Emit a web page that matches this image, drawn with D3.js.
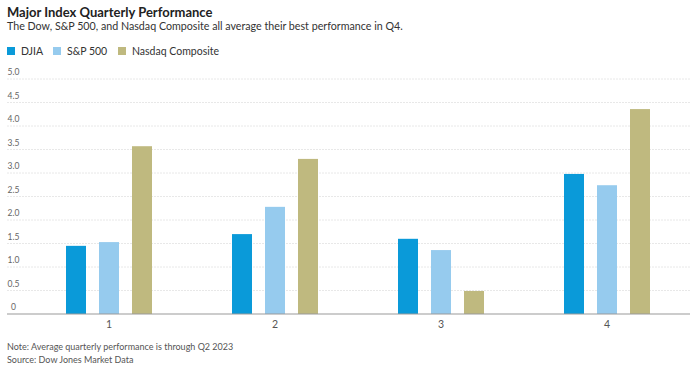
<!DOCTYPE html>
<html>
<head>
<meta charset="utf-8">
<script src="https://cdn.jsdelivr.net/npm/d3@7"></script>
<style>
  body { margin: 0; background: #fff; }
  svg { font-family: Lato, "Open Sans", sans-serif; }
</style>
</head>
<body>
<svg id="chart" width="700" height="375"></svg>
<script>
// data
let quarters = ["1", "2", "3", "4"];
let series = ["DJIA", "S&P 500", "Nasdaq Composite"];
let djia = [1.45, 1.70, 1.60, 2.98];
let sp500 = [1.53, 2.28, 1.36, 2.74];
let nasdaq = [3.57, 3.30, 0.49, 4.36];
let yTicks = [0, 0.5, 1.0, 1.5, 2.0, 2.5, 3.0, 3.5, 4.0, 4.5, 5.0];

let colors = ["#0a9ad9", "#96cbee", "#bfb97f"];
let values = [djia, sp500, nasdaq];

let svg = d3.select("#chart");

let dims = {
  left: 26, //left edge of first quarter band
  right: 690,
  top: 79,
  bottom: 314,
  axisLeft: 7,
};

let xScale = d3.scaleBand().domain(quarters).range([dims.left, dims.right]);
let xInner = d3.scaleBand().domain(series).range([0, 86]).paddingInner(13 / 33);
let yScale = d3.scaleLinear().domain([0, 5]).range([dims.bottom, dims.top]);

// title block
svg.append("text")
  .text("Major Index Quarterly Performance")
  .attr("x", 7).attr("y", 17)
  .attr("font-size", 13).attr("font-weight", "bold").attr("fill", "#222");

svg.append("text")
  .text("The Dow, S&P 500, and Nasdaq Composite all average their best performance in Q4.")
  .attr("x", 7).attr("y", 29.5)
  .attr("font-size", 10.7).attr("fill", "#333");

// legend
let legend = svg.append("g");
let legendX = [7, 53, 118];
series.forEach((s, i) => {
  legend.append("rect")
    .attr("x", legendX[i]).attr("y", 47)
    .attr("width", 8).attr("height", 8)
    .attr("fill", colors[i]);
  legend.append("text")
    .text(s)
    .attr("x", legendX[i] + 14).attr("y", 55)
    .attr("font-size", 10.5).attr("fill", "#333");
});

// gridlines and y labels
let grid = svg.append("g");
grid.selectAll("line")
  .data(yTicks.filter((d) => d > 0))
  .enter()
  .append("line")
  .attr("x1", dims.axisLeft).attr("x2", dims.right)
  .attr("y1", (d) => yScale(d)).attr("y2", (d) => yScale(d))
  .attr("stroke", "#e8e8e8").attr("stroke-dasharray", "2,1");

grid.selectAll("text")
  .data(yTicks)
  .enter()
  .append("text")
  .text((d) => (d === 0 ? "0" : d.toFixed(1)))
  .attr("x", 13.5)
  .attr("y", (d) => yScale(d) - 4)
  .attr("text-anchor", "middle")
  .attr("font-size", 8.5).attr("fill", "#666");

// bars
let groups = svg.selectAll("g.quarter")
  .data(quarters)
  .enter()
  .append("g")
  .attr("class", "quarter")
  .attr("transform", (q) => "translate(" + (xScale(q) + xScale.bandwidth() / 2 - 43) + ",0)");

groups.selectAll("rect")
  .data((q, qi) => series.map((s, si) => ({ s: s, v: values[si][qi], c: colors[si] })))
  .enter()
  .append("rect")
  .attr("x", (d) => xInner(d.s))
  .attr("y", (d) => yScale(d.v))
  .attr("width", xInner.bandwidth())
  .attr("height", (d) => yScale(0) - yScale(d.v))
  .attr("fill", (d) => d.c);

// x axis
let xAxis = d3.axisBottom(xScale).tickSize(0).tickPadding(7);
let axisG = svg.append("g")
  .attr("transform", "translate(0," + dims.bottom + ")")
  .call(xAxis);
axisG.select(".domain").remove();
axisG.append("line")
  .attr("x1", dims.axisLeft).attr("x2", dims.right)
  .attr("stroke", "#999").attr("stroke-width", 1.2);
axisG.selectAll("text")
  .attr("font-family", "Lato, sans-serif")
  .attr("font-size", 10.5).attr("fill", "#555");

// notes
svg.append("text")
  .text("Note: Average quarterly performance is through Q2 2023")
  .attr("x", 7).attr("y", 350)
  .attr("font-size", 9).attr("fill", "#555");
svg.append("text")
  .text("Source: Dow Jones Market Data")
  .attr("x", 7).attr("y", 363)
  .attr("font-size", 9).attr("fill", "#555");
</script>
</body>
</html>
